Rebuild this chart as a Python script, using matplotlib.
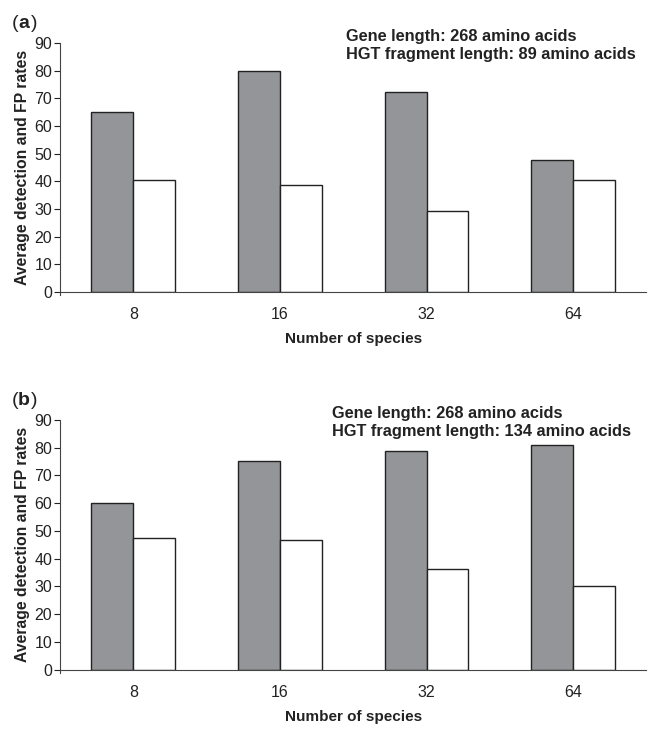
import numpy as np
import matplotlib
matplotlib.use("Agg")
import matplotlib.pyplot as plt

plt.rcParams['font.family'] = ['Liberation Sans', 'DejaVu Sans']

species = ["8", "16", "32", "64"]
# panel (a): HGT fragment 89 aa
detect_a = [65.0, 80.0, 72.4, 47.7]
fp_a = [40.4, 38.8, 29.3, 40.4]
# panel (b): HGT fragment 134 aa
detect_b = [59.9, 75.3, 78.9, 80.9]
fp_b = [47.6, 46.7, 36.2, 30.1]

panels = [
    ("a", detect_a, fp_a, "Gene length: 268 amino acids\nHGT fragment length: 89 amino acids", 0.487),
    ("b", detect_b, fp_b, "Gene length: 268 amino acids\nHGT fragment length: 134 amino acids", 0.463),
]
positions = [[0.0926, 0.6005, 0.905, 0.3406], [0.0926, 0.0841, 0.905, 0.3413]]

fig = plt.figure(figsize=(6.48, 7.31), dpi=100)
w = 0.286
x = np.arange(len(species))
for (tag, det, fp, note, nx), pos in zip(panels, positions):
    ax = fig.add_axes(pos)
    ax.bar(x - w / 2, det, w, color="#939598", edgecolor="#222222", linewidth=1.0)
    ax.bar(x + w / 2, fp, w, color="white", edgecolor="#222222", linewidth=1.0)
    ax.set_xlim(-0.5, 3.5)
    ax.set_ylim(0, 90)
    ax.set_yticks(range(0, 91, 10))
    ax.set_xticks(x)
    ax.set_xticklabels(species)
    ax.tick_params(axis="x", length=0, pad=11, labelsize=11.5, colors="#222222")
    ax.tick_params(axis="y", length=4, direction="out", labelsize=11.5, pad=1.5, colors="#222222")
    for s in ["top", "right"]:
        ax.spines[s].set_visible(False)
    ax.spines["left"].set_color("#444444")
    ax.spines["bottom"].set_color("#444444")
    ax.spines["left"].set_bounds(-1.2, 90)
    ax.spines["left"].set_clip_on(False)
    ax.set_ylabel("Average detection and FP rates", fontsize=11.3, fontweight="bold",
                  labelpad=3, color="#222222")
    ax.set_xlabel("Number of species", fontsize=11, fontweight="bold", labelpad=7, color="#222222")
    ax.text(nx, 1.055, note, transform=ax.transAxes, fontsize=11.8, fontweight="bold",
            color="#222222", va="top", ha="left", linespacing=1.2)
    ax.text(-0.082, 1.045, "(", transform=ax.transAxes, fontsize=14, va="bottom", color="#222222")
    ax.text(-0.0713, 1.045, tag, transform=ax.transAxes, fontsize=14, fontweight="bold",
            va="bottom", color="#222222")
    ax.text(-0.0495, 1.045, ")", transform=ax.transAxes, fontsize=14, va="bottom", color="#222222")

fig.savefig("out.png", dpi=100)
